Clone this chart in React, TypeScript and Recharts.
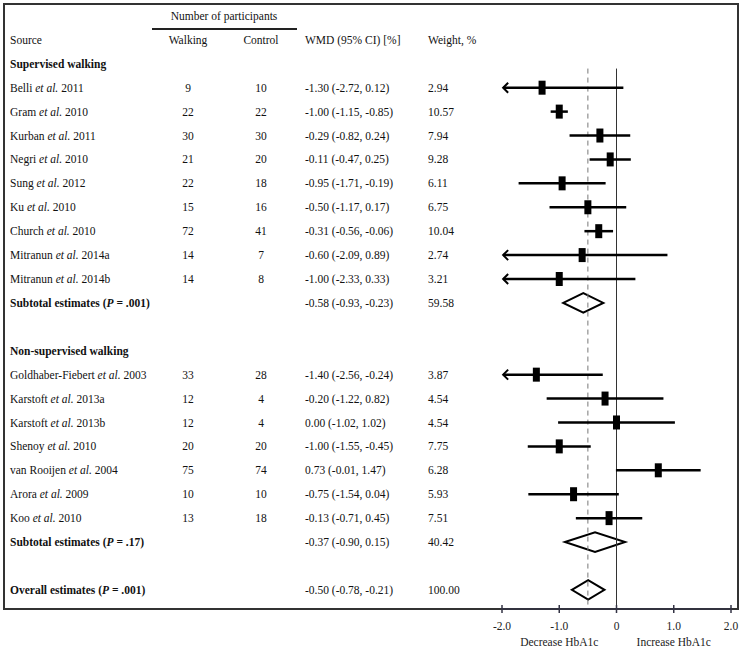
import React from "react";
import { ComposedChart, XAxis, YAxis, Scatter, ReferenceLine, ReferenceArea } from "recharts";

interface Study {
  author: string;
  year: string;
  walking: number;
  control: number;
  wmd: number;
  low: number;
  high: number;
  weight: number;
}

interface Pooled {
  label: string;
  p: string;
  wmd: number;
  low: number;
  high: number;
  weight: number;
}

const supervisedStudies: Study[] = [
  { author: "Belli", year: "2011", walking: 9, control: 10, wmd: -1.3, low: -2.72, high: 0.12, weight: 2.94 },
  { author: "Gram", year: "2010", walking: 22, control: 22, wmd: -1.0, low: -1.15, high: -0.85, weight: 10.57 },
  { author: "Kurban", year: "2011", walking: 30, control: 30, wmd: -0.29, low: -0.82, high: 0.24, weight: 7.94 },
  { author: "Negri", year: "2010", walking: 21, control: 20, wmd: -0.11, low: -0.47, high: 0.25, weight: 9.28 },
  { author: "Sung", year: "2012", walking: 22, control: 18, wmd: -0.95, low: -1.71, high: -0.19, weight: 6.11 },
  { author: "Ku", year: "2010", walking: 15, control: 16, wmd: -0.5, low: -1.17, high: 0.17, weight: 6.75 },
  { author: "Church", year: "2010", walking: 72, control: 41, wmd: -0.31, low: -0.56, high: -0.06, weight: 10.04 },
  { author: "Mitranun", year: "2014a", walking: 14, control: 7, wmd: -0.6, low: -2.09, high: 0.89, weight: 2.74 },
  { author: "Mitranun", year: "2014b", walking: 14, control: 8, wmd: -1.0, low: -2.33, high: 0.33, weight: 3.21 },
];

const nonSupervisedStudies: Study[] = [
  { author: "Goldhaber-Fiebert", year: "2003", walking: 33, control: 28, wmd: -1.4, low: -2.56, high: -0.24, weight: 3.87 },
  { author: "Karstoft", year: "2013a", walking: 12, control: 4, wmd: -0.2, low: -1.22, high: 0.82, weight: 4.54 },
  { author: "Karstoft", year: "2013b", walking: 12, control: 4, wmd: 0.0, low: -1.02, high: 1.02, weight: 4.54 },
  { author: "Shenoy", year: "2010", walking: 20, control: 20, wmd: -1.0, low: -1.55, high: -0.45, weight: 7.75 },
  { author: "van Rooijen", year: "2004", walking: 75, control: 74, wmd: 0.73, low: -0.01, high: 1.47, weight: 6.28 },
  { author: "Arora", year: "2009", walking: 10, control: 10, wmd: -0.75, low: -1.54, high: 0.04, weight: 5.93 },
  { author: "Koo", year: "2010", walking: 13, control: 18, wmd: -0.13, low: -0.71, high: 0.45, weight: 7.51 },
];

const supervisedSubtotal: Pooled = { label: "Subtotal estimates", p: ".001", wmd: -0.58, low: -0.93, high: -0.23, weight: 59.58 };
const nonSupervisedSubtotal: Pooled = { label: "Subtotal estimates", p: ".17", wmd: -0.37, low: -0.9, high: 0.15, weight: 40.42 };
const overallEstimate: Pooled = { label: "Overall estimates", p: ".001", wmd: -0.5, low: -0.78, high: -0.21, weight: 100.0 };

const groupNames = ["Supervised walking", "Non-supervised walking"];
const xTicks = [-2, -1, 0, 1, 2];

const FONT = "'Liberation Serif', 'Times New Roman', serif";
const X_MIN = -2;

// layout rows: each text row gets an integer slot on the y axis
type Row =
  | { kind: "participants"; row: number }
  | { kind: "columns"; row: number }
  | { kind: "group"; row: number; name: string }
  | { kind: "study"; row: number; study: Study }
  | { kind: "pooled"; row: number; pooled: Pooled };

const rows: Row[] = [{ kind: "participants", row: -2 }, { kind: "columns", row: -1 }];
let cursor = 0;
const groups = [
  { name: groupNames[0], studies: supervisedStudies, subtotal: supervisedSubtotal },
  { name: groupNames[1], studies: nonSupervisedStudies, subtotal: nonSupervisedSubtotal },
];
groups.forEach((g) => {
  rows.push({ kind: "group", row: cursor++, name: g.name });
  g.studies.forEach((s) => rows.push({ kind: "study", row: cursor++, study: s }));
  rows.push({ kind: "pooled", row: cursor++, pooled: g.subtotal });
  cursor++;
});
rows.push({ kind: "pooled", row: cursor, pooled: overallEstimate });

const studyRows = rows.filter((r) => r.kind === "study") as Extract<Row, { kind: "study" }>[];
const pooledRows = rows.filter((r) => r.kind === "pooled") as Extract<Row, { kind: "pooled" }>[];
const points = studyRows.map((r) => ({ x: r.study.wmd, y: r.row }));
// table text is anchored on the y scale through an invisible scatter
const textPoints = rows.map((r) => ({ x: 0, y: r.row, r }));

const fmt = (v: number) => v.toFixed(2);
const ciText = (w: number, lo: number, hi: number) => `${fmt(w)} (${fmt(lo)}, ${fmt(hi)})`;

const COL = { source: 10, walking: 188, control: 261, wmd: 305, weight: 428 };

const RowText = ({ cy, payload }: any) => {
  const r: Row = payload.r;
  const y = cy;
  const t = { fontFamily: FONT, fontSize: 11.5, fill: "#111", dy: "0.35em" } as any;
  if (r.kind === "participants") {
    return (
      <g>
        <text {...t} x={224} textAnchor="middle" y={y}>
          Number of participants
        </text>
        <line x1={152} x2={297} y1={y + 13} y2={y + 13} stroke="#222" strokeWidth={2} />
      </g>
    );
  }
  if (r.kind === "columns") {
    return (
      <g>
        <text {...t} x={COL.source} y={y}>Source</text>
        <text {...t} x={COL.walking} y={y} textAnchor="middle">Walking</text>
        <text {...t} x={COL.control} y={y} textAnchor="middle">Control</text>
        <text {...t} x={COL.wmd} y={y}>WMD (95% CI) [%]</text>
        <text {...t} x={COL.weight} y={y}>Weight, %</text>
      </g>
    );
  }
  if (r.kind === "group") {
    return (
      <text {...t} x={COL.source} y={y} fontWeight="bold">
        {r.name}
      </text>
    );
  }
  if (r.kind === "study") {
    const s = r.study;
    return (
      <g>
        <text {...t} x={COL.source} y={y}>
          <tspan>{s.author} </tspan>
          <tspan fontStyle="italic">et al.</tspan>
          <tspan> {s.year}</tspan>
        </text>
        <text {...t} x={COL.walking} y={y} textAnchor="middle">{s.walking}</text>
        <text {...t} x={COL.control} y={y} textAnchor="middle">{s.control}</text>
        <text {...t} x={COL.wmd} y={y}>{ciText(s.wmd, s.low, s.high)}</text>
        <text {...t} x={COL.weight} y={y}>{fmt(s.weight)}</text>
      </g>
    );
  }
  const p = r.pooled;
  return (
    <g>
      <text {...t} x={COL.source} y={y} fontWeight="bold">
        <tspan>{p.label} (</tspan>
        <tspan fontStyle="italic">P</tspan>
        <tspan> = {p.p})</tspan>
      </text>
      <text {...t} x={COL.wmd} y={y}>{ciText(p.wmd, p.low, p.high)}</text>
      <text {...t} x={COL.weight} y={y}>{fmt(p.weight)}</text>
    </g>
  );
};

const AxisTick = ({ x, y, payload }: any) => {
  const v = payload.value as number;
  const t = { fontFamily: FONT, fontSize: 11.5, fill: "#222", textAnchor: "middle" } as any;
  return (
    <g>
      <line x1={x} x2={x} y1={y - 8} y2={y} stroke="#334" strokeWidth={1.5} />
      <text {...t} x={x} y={y + 17}>{v === 0 ? "0" : v.toFixed(1)}</text>
      {v === -1 && <text {...t} x={x} y={y + 33}>Decrease HbA1c</text>}
      {v === 1 && <text {...t} x={x} y={y + 33}>Increase HbA1c</text>}
    </g>
  );
};

const CiLine = ({ x1, y1, x2, y2, arrow }: any) => (
  <g>
    <line x1={x1} y1={y1} x2={x2} y2={y2} stroke="#000" strokeWidth={2.5} />
    {arrow && (
      <polyline
        points={`${x1 + 5},${y1 - 5} ${x1},${y1} ${x1 + 5},${y1 + 5}`}
        fill="none"
        stroke="#000"
        strokeWidth={2}
      />
    )}
  </g>
);

const Diamond = ({ x, y, width, height }: any) => (
  <polygon
    points={`${x},${y + height / 2} ${x + width / 2},${y} ${x + width},${y + height / 2} ${x + width / 2},${y + height}`}
    fill="#fff"
    stroke="#000"
    strokeWidth={2}
  />
);

export default function App() {
  return (
    <div style={{ position: "absolute", left: 0, top: 0, width: 743, height: 650, background: "#fff" }}>
      <div
        style={{
          position: "absolute",
          left: 3,
          top: 3,
          width: 736,
          height: 607,
          border: "2px solid #333",
          boxSizing: "border-box",
        }}
      />
      <ComposedChart
        width={743}
        height={650}
        margin={{ top: 4, right: 12, bottom: 0, left: 502 }}
        style={{ position: "absolute", left: 0, top: 0 }}
      >
        <XAxis
          type="number"
          dataKey="x"
          domain={[-2, 2]}
          ticks={xTicks}
          interval={0}
          height={41}
          tickSize={4}
          tickMargin={0}
          tickLine={false}
          axisLine={{ stroke: "#334", strokeWidth: 1.5 }}
          tick={<AxisTick />}
        />
        <YAxis type="number" dataKey="y" domain={[-2.5, 22.8]} reversed width={0} hide />
        <ReferenceLine
          segment={[{ x: -0.5, y: 0.2 }, { x: -0.5, y: 22.8 }]}
          stroke="#777"
          strokeDasharray="5 4"
          strokeWidth={1}
        />
        <ReferenceLine
          segment={[{ x: 0, y: 0.2 }, { x: 0, y: 22.8 }]}
          stroke="#333"
          strokeWidth={1}
        />
        {studyRows.map((r) => {
          const clipped = r.study.low < X_MIN;
          return (
            <ReferenceLine
              key={`ci-${r.row}`}
              segment={[
                { x: clipped ? X_MIN + 0.02 : r.study.low, y: r.row },
                { x: r.study.high, y: r.row },
              ]}
              shape={(p: any) => <CiLine {...p} arrow={clipped} />}
            />
          );
        })}
        {pooledRows.map((r) => (
          <ReferenceArea
            key={`pool-${r.row}`}
            x1={r.pooled.low}
            x2={r.pooled.high}
            y1={r.row - 0.41}
            y2={r.row + 0.41}
            shape={(p: any) => <Diamond {...p} />}
          />
        ))}
        <Scatter
          data={points}
          isAnimationActive={false}
          shape={(p: any) => <rect x={p.cx - 3.5} y={p.cy - 7} width={7} height={14} fill="#000" />}
        />
        <Scatter data={textPoints} isAnimationActive={false} shape={(p: any) => <RowText {...p} />} />
      </ComposedChart>
    </div>
  );
}
